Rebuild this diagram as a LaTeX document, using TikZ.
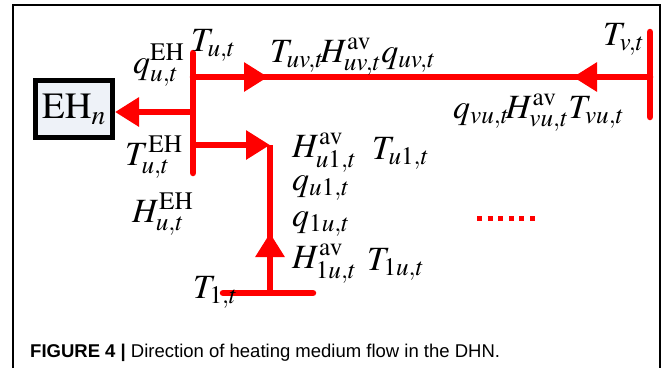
\documentclass[tikz,border=0pt]{standalone}
\usepackage{mathptmx}
\usepackage{fontspec}
\setmainfont{Liberation Serif}
\newfontfamily\capfont{Liberation Sans}
\usetikzlibrary{arrows.meta, positioning}
\definecolor{pipered}{RGB}{255,0,0}
\definecolor{boxfill}{RGB}{238,242,248}

\begin{document}
\begin{tikzpicture}[
  x=1pt, y=-1pt,
  pipe/.style={draw=pipered, line width=6.5pt, line cap=round},
  flow/.style={draw=pipered, line width=6.5pt, -{Triangle[length=24pt, width=28pt]}},
  ehbox/.style={rectangle, draw=black, line width=5pt, fill=boxfill,
                minimum width=77pt, minimum height=57pt, inner sep=0pt},
  lbl/.style={font=\fontsize{34}{38}\selectfont, inner sep=0pt, anchor=base west},
  captext/.style={font=\capfont\fontsize{18.5}{20}\selectfont, inner sep=0pt, anchor=base west}
]
  \useasboundingbox (0,0) rectangle (665,368);
  % Frame
  \draw[line width=1.3pt] (13,368) -- (13,5) -- (660,5) -- (660,368);

  % Energy hub
  \node[ehbox] (eh) at (74,109) {\fontsize{37}{40}\selectfont $\mathrm{EH}_n$};

  % Nodes of the network
  \coordinate (u-top)  at (193,53);
  \coordinate (u-bot)  at (193,173);
  \coordinate (u-eh)   at (193,112);
  \coordinate (u-main) at (193,77);
  \coordinate (u-br)   at (193,145);
  \coordinate (v-top)  at (650,32);
  \coordinate (v-bot)  at (650,117);
  \coordinate (v-main) at (650,77);
  \coordinate (a-uv)   at (268,77);
  \coordinate (a-vu)   at (573,77);
  \coordinate (corner) at (270,145);
  \coordinate (n1)     at (270,293);
  \coordinate (a-up)   at (270,233);
  \coordinate (n1-l)   at (223,293);
  \coordinate (n1-r)   at (313,293);
  \coordinate (dots-l) at (477,218);
  \coordinate (dots-r) at (540,218);

  % Pipes
  \draw[pipe] (u-top) -- (u-bot);
  \draw[pipe] (v-top) -- (v-bot);
  \draw[pipe] (u-main) -- (v-main);
  \draw[flow] (u-main) -- (a-uv);
  \draw[flow] (v-main) -- (a-vu);
  \draw[flow] (u-eh) -- (eh.east |- u-eh);
  \draw[flow] (u-br) -- (corner);
  \draw[pipe, line cap=butt] (corner) -- (n1);
  \draw[flow] (n1) -- (a-up);
  \draw[pipe] (n1-l) -- (n1-r);
  \draw[pipered, line width=5pt, dash pattern=on 5pt off 5.6pt] (dots-l) -- (dots-r);

  % Labels
  \node[lbl] (q-eh)  at (133,73)  {$q_{u,t}^{\mathrm{EH}}$};
  \node[lbl] (t-u)   at (191,51)  {$T_{u,t}$};
  \node[lbl] (l-uv)  at (270,62)  {$T_{uv,t}\!H_{uv,t}^{\mathrm{av}}q_{uv,t}$};
  \node[lbl] (t-v)   at (603,45)  {$T_{v,t}$};
  \node[lbl] (l-vu)  at (453,118) {$q_{vu,t}\!H_{vu,t}^{\mathrm{av}}T_{vu,t}$};
  \node[lbl] (t-eh)  at (125,165) {$T_{u,t}^{\mathrm{EH}}$};
  \node[lbl] (h-eh)  at (132,222) {$H_{u,t}^{\mathrm{EH}}$};
  \node[lbl] (h-u1)  at (292,157) {$H_{u1,t}^{\mathrm{av}}$};
  \node[lbl] (t-u1)  at (372,159) {$T_{u1,t}$};
  \node[lbl] (q-u1)  at (292,190) {$q_{u1,t}$};
  \node[lbl] (q-1u)  at (292,226) {$q_{1u,t}$};
  \node[lbl] (h-1u)  at (292,268) {$H_{1u,t}^{\mathrm{av}}$};
  \node[lbl] (t-1u)  at (367,270) {$T_{1u,t}$};
  \node[lbl] (t-1)   at (193,298) {$T_{1,t}$};

  % Caption
  \node[captext] (caption) at (30,357) {\textbf{FIGURE 4 |} Direction of heating medium flow in the DHN.};
\end{tikzpicture}
\end{document}
